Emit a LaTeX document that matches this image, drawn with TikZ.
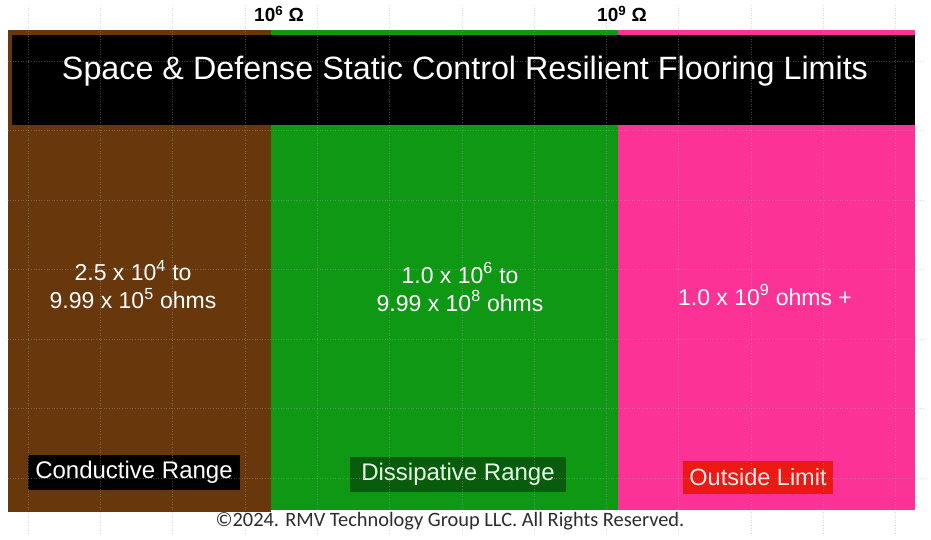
\documentclass[tikz,border=0pt]{standalone}
\usepackage{fontspec}
\setmainfont{Liberation Sans}
\newfontfamily\notefont{Carlito}
\definecolor{floorbrown}{RGB}{104,56,12}
\definecolor{floorgreen}{RGB}{14,152,20}
\definecolor{floorpink}{RGB}{252,50,150}
\definecolor{labelgreen}{RGB}{8,92,12}
\definecolor{labelred}{RGB}{236,24,20}
\definecolor{notegray}{RGB}{45,45,45}
\tikzset{
  gridline/.style={gray!70, dotted, line width=0.6pt, opacity=0.4},
  rangetext/.style={text=white, align=center, font=\fontsize{23}{28}\selectfont},
  rangelabel/.style={inner sep=0pt, font=\fontsize{24}{26}\selectfont},
  limitmark/.style={text=black, font=\bfseries\fontsize{19}{20}\selectfont}
}
\begin{document}
\begin{tikzpicture}[x=1pt, y=-1pt, every node/.style={inner sep=0pt}]
  \useasboundingbox (0,0) rectangle (931,540);
  \fill[white] (0,0) rectangle (931,540);
  % the three resistance ranges
  \fill[floorbrown] (8,30) rectangle (271,512);
  \fill[floorgreen] (271,30) rectangle (618,510);
  \fill[floorpink] (618,30) rectangle (915,510);
  % title band
  \fill[black] (12,35) rectangle (915,125);
  \node[text=white, font=\fontsize{32.3}{36}\selectfont] (title) at (465,71)
    {Space \& Defense Static Control Resilient Flooring Limits};
  % limits above the band
  \node[limitmark] (lowlimit) at (279,14) {10\textsuperscript{6} Ω};
  \node[limitmark] (highlimit) at (622,14) {10\textsuperscript{9} Ω};
  % values
  \node[rangetext] (condval) at (133,285)
    {2.5 x 10\textsuperscript{4} to\\9.99 x 10\textsuperscript{5} ohms};
  \node[rangetext] (dissval) at (460,287)
    {1.0 x 10\textsuperscript{6} to\\9.99 x 10\textsuperscript{8} ohms};
  \node[rangetext] (outval) at (765,295)
    {1.0 x 10\textsuperscript{9} ohms +};
  % range labels
  \node[rangelabel, fill=black, text=white, minimum width=212, minimum height=35]
    (condlabel) at (134,472.5) {Conductive Range};
  \node[rangelabel, fill=labelgreen, text=green!10, minimum width=216, minimum height=35]
    (disslabel) at (458,474.5) {Dissipative Range};
  \node[rangelabel, fill=labelred, text=red!8, minimum width=150, minimum height=33,
    font=\fontsize{23.5}{25}\selectfont] (outlabel) at (758,477.5) {Outside Limit};
  % footer
  \node[text=notegray, font=\notefont\fontsize{20.4}{24}\selectfont] (copyright) at (450,521)
    {©2024. RMV Technology Group LLC. All Rights Reserved.};
  % faint dotted grid
  \foreach \gx in {0,...,12}
    \draw[gridline] ({28+72.3*\gx},5) -- ({28+72.3*\gx},535);
  \foreach \gy in {0,...,6}
    \draw[gridline] (5,{61+69.5*\gy}) -- (925,{61+69.5*\gy});
\end{tikzpicture}
\end{document}
